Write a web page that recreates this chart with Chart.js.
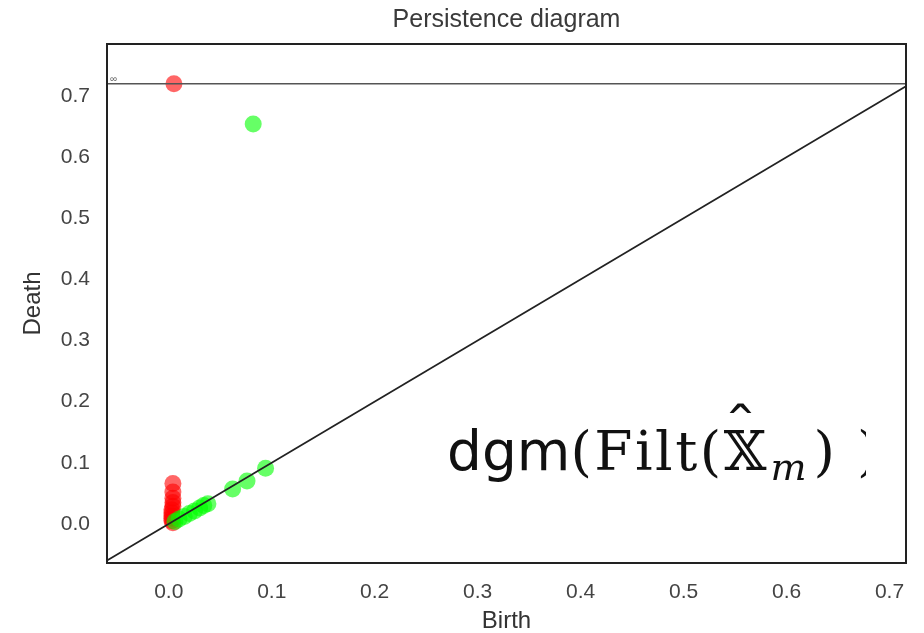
<!DOCTYPE html>
<html>
<head>
<meta charset="utf-8">
<script src="https://cdn.jsdelivr.net/npm/chart.js@4/dist/chart.umd.min.js"></script>
<style>
  html, body { margin: 0; padding: 0; background: #fff; }
  #wrap { position: relative; width: 924px; height: 633px; }
  #label {
    position: absolute; left: 447px; top: 376px; width: 419px; height: 150px;
    overflow: hidden; white-space: nowrap; color: #111;
    font-family: "DejaVu Serif", "Liberation Serif", serif; font-size: 55px; line-height: 150px;
  }
  #label .sf { font-family: "DejaVu Sans", sans-serif; }
  #label .rm { letter-spacing: 2.5px; }
  #label .bb { position: relative; display: inline-block; line-height: 1; }
  #label .hat { position: absolute; left: 4px; top: -22px; font-size: 50px; transform: scaleX(1.4); }
  #label sub { font-style: italic; font-size: 38px; vertical-align: -10px; line-height: 1; margin-left: 4px; }
  #label .p1 { margin-left: 7px; }
  #label .last { margin-left: 22px; }
</style>
</head>
<body>
<div id="wrap">
  <canvas id="pd" width="924" height="633"></canvas>
  <div id="label"><span class="sf">dgm</span><span class="rm">(Filt(</span><span class="bb">𝕏<span class="hat">ˆ</span></span><sub>m</sub><span class="p1">)</span><span class="last">)</span></div>
</div>
<script>
// axis bounds
const xMin = -0.06, xMax = 0.716;
const yMin = -0.064, yMax = 0.785;
const infinity = 0.72;
const tickValues = [0, 0.1, 0.2, 0.3, 0.4, 0.5, 0.6, 0.7];

// H0 (red) points
const h0Birth = [0.005, 0.004, 0.004, 0.004, 0.004, 0.004, 0.003, 0.003, 0.003, 0.003, 0.003, 0.004];
const h0Death = [infinity, 0.066, 0.052, 0.042, 0.035, 0.029, 0.023, 0.018, 0.013, 0.009, 0.005, 0.002];

// H1 (green) points
const h1Birth = [0.082, 0.094, 0.076, 0.062, 0.038, 0.034, 0.030, 0.025, 0.020, 0.015, 0.010, 0.006];
const h1Death = [0.654, 0.091, 0.070, 0.057, 0.033, 0.030, 0.026, 0.021, 0.017, 0.012, 0.008, 0.004];

const toPts = (xs, ys) => xs.map((x, i) => ({ x: x, y: ys[i] }));

const frame = {
  id: 'frame',
  afterDraw(chart) {
    const { ctx, chartArea: a, scales } = chart;
    ctx.save();
    ctx.strokeStyle = '#222';
    ctx.lineWidth = 2;
    ctx.strokeRect(a.left, a.top, a.right - a.left, a.bottom - a.top);
    // infinity marker
    ctx.fillStyle = '#666';
    ctx.font = '10px "Liberation Sans", sans-serif';
    ctx.textBaseline = 'bottom';
    ctx.fillText('\u221e', a.left + 3, scales.y.getPixelForValue(infinity) + 1);
    ctx.restore();
  }
};

const sans = '"Liberation Sans", Arial, sans-serif';
const tickFont = { family: sans, size: 21 };
const labelFont = { family: sans, size: 24, lineHeight: 1 };

new Chart(document.getElementById('pd'), {
  type: 'scatter',
  data: {
    datasets: [
      {
        type: 'line',
        data: [{ x: xMin, y: xMin }, { x: xMax, y: xMax }],
        borderColor: '#222', borderWidth: 1.8, pointRadius: 0, order: 0
      },
      {
        type: 'line',
        data: [{ x: xMin, y: infinity }, { x: xMax, y: infinity }],
        borderColor: '#555', borderWidth: 1.5, pointRadius: 0, order: 0
      },
      {
        label: 'H1',
        data: toPts(h1Birth, h1Death),
        backgroundColor: 'rgba(0,255,0,0.6)', borderWidth: 0, pointRadius: 8.5, order: 1
      },
      {
        label: 'H0',
        data: toPts(h0Birth, h0Death),
        backgroundColor: 'rgba(255,0,0,0.6)', borderWidth: 0, pointRadius: 8.5, order: 2
      }
    ]
  },
  options: {
    responsive: false,
    animation: false,
    layout: { padding: { left: 0, right: 18, bottom: 0, top: 0 } },
    plugins: {
      legend: { display: false },
      tooltip: { enabled: false }
    },
    scales: {
      top: {
        type: 'linear', position: 'top', min: xMin, max: xMax,
        afterFit: s => { s.height = 44; },
        grid: { display: false, drawTicks: false },
        border: { display: false },
        ticks: { display: false },
        title: {
          display: true, text: 'Persistence diagram', color: '#3a3a3a',
          font: { family: sans, size: 25, lineHeight: 1 }, padding: { top: 8, bottom: 0 }
        }
      },
      x: {
        type: 'linear', min: xMin, max: xMax,
        afterFit: s => { s.height = 70; },
        afterBuildTicks: s => { s.ticks = tickValues.map(v => ({ value: v })); },
        grid: { display: false, drawTicks: false },
        border: { display: false },
        ticks: { color: '#444', font: tickFont, padding: 17, callback: v => v.toFixed(1) },
        title: { display: true, text: 'Birth', color: '#333', font: labelFont, padding: { top: 0, bottom: 0 } }
      },
      y: {
        type: 'linear', min: yMin, max: yMax,
        afterFit: s => { s.width = 107; },
        afterBuildTicks: s => { s.ticks = tickValues.map(v => ({ value: v })); },
        grid: { display: false, drawTicks: false },
        border: { display: false },
        ticks: { color: '#444', font: tickFont, padding: 17, callback: v => v.toFixed(1) },
        title: { display: true, text: 'Death', color: '#333', font: labelFont, padding: { top: 21, bottom: 0 } }
      }
    }
  },
  plugins: [frame]
});
</script>
</body>
</html>
